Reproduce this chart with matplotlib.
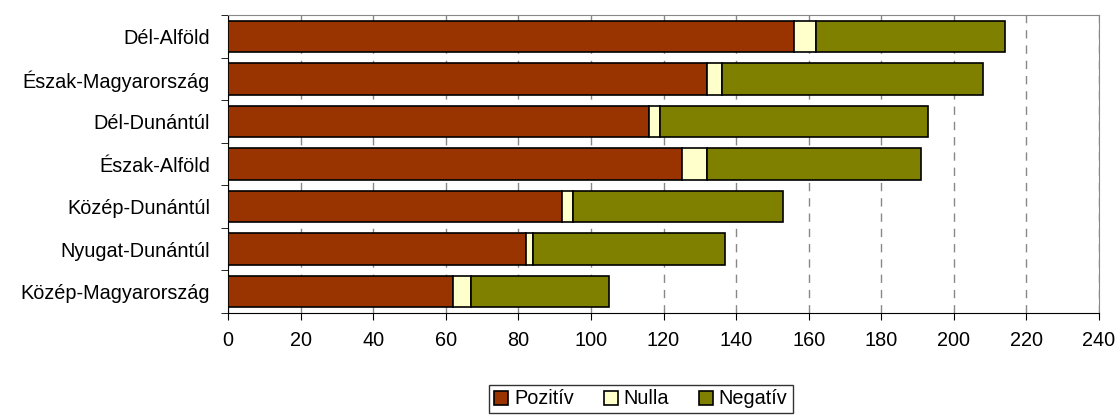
import matplotlib
matplotlib.use("Agg")
import matplotlib.pyplot as plt
import numpy as np

plt.rcParams["font.family"] = ["Liberation Sans", "DejaVu Sans"]

regions = ["Dél-Alföld", "Észak-Magyarország", "Dél-Dunántúl", "Észak-Alföld",
           "Közép-Dunántúl", "Nyugat-Dunántúl", "Közép-Magyarország"]
pozitiv = [156, 132, 116, 125, 92, 82, 62]
nulla = [6, 4, 3, 7, 3, 2, 5]
negativ = [52, 72, 74, 59, 58, 53, 38]
xticks = list(range(0, 241, 20))

fig = plt.figure(figsize=(11.19, 4.18), dpi=100)
ax = fig.add_axes([228 / 1119, 1 - 313 / 418, 871 / 1119, 298 / 418])

y = np.arange(len(regions))[::-1]
pos = np.array(pozitiv)
nul = np.array(nulla)
neg = np.array(negativ)
h = 0.74
ax.barh(y, pos, height=h, color="#993300", edgecolor="black", linewidth=1.2, label="Pozitív", zorder=3)
ax.barh(y, nul, left=pos, height=h, color="#FFFFCC", edgecolor="black", linewidth=1.2, label="Nulla", zorder=3)
ax.barh(y, neg, left=pos + nul, height=h, color="#808000", edgecolor="black", linewidth=1.2, label="Negatív", zorder=3)

ax.set_xlim(0, 240)
ax.set_ylim(-0.5, len(regions) - 0.5)
ax.set_xticks(xticks)
ax.set_yticks(y)
ax.set_yticklabels(regions)
ax.set_yticks(np.arange(-0.5, len(regions), 1.0), minor=True)
ax.tick_params(axis="y", which="major", length=0, pad=13, labelsize=14.3)
ax.tick_params(axis="y", which="minor", length=5, color="black")
ax.tick_params(axis="x", length=5, labelsize=14.3, pad=8, color="black")
ax.xaxis.grid(True, linestyle=(0, (6, 5)), color="#888888", linewidth=1, zorder=0)

for s in ["top", "right"]:
    ax.spines[s].set_color("#888888")
ax.spines["left"].set_color("black")
ax.spines["bottom"].set_color("black")

leg = ax.legend(loc="center", bbox_to_anchor=(641 / 1119, 1 - 399 / 418), bbox_transform=fig.transFigure,
                ncol=3, frameon=True, fancybox=False, edgecolor="black", fontsize=14.3,
                handlelength=0.7, handleheight=0.7, handletextpad=0.3, columnspacing=1.5,
                borderpad=0.25)
leg.get_frame().set_linewidth(1)

fig.savefig("out.png", dpi=100)
